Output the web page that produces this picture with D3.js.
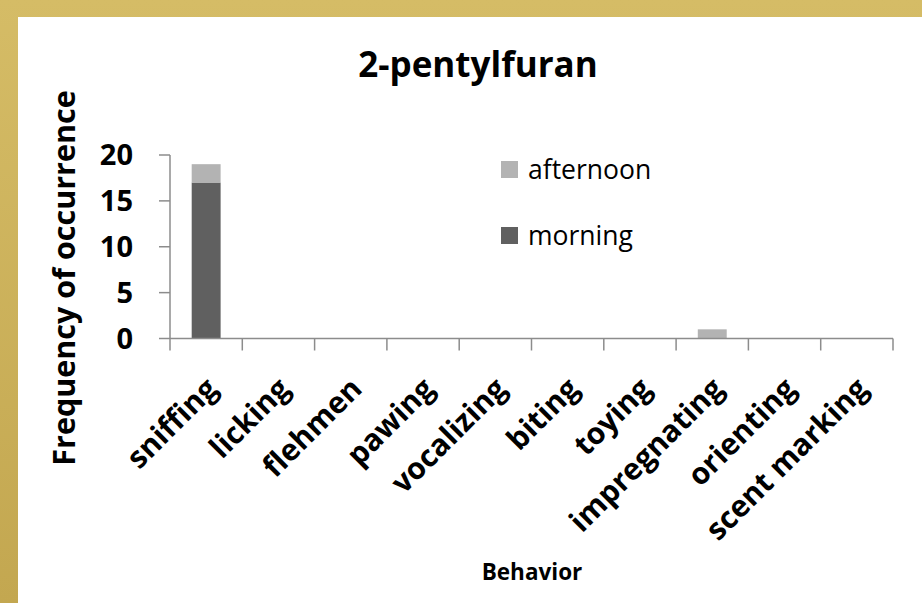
<!DOCTYPE html>
<html><head><meta charset="utf-8">
<script src="https://cdn.jsdelivr.net/npm/d3@7"></script>
<style>html,body{margin:0;padding:0;background:#fff;}svg{display:block;}</style>
</head><body>
<script>
const categories = ["sniffing","licking","flehmen","pawing","vocalizing","biting","toying","impregnating","orienting","scent marking"];
const morning   = [17,0,0,0,0,0,0,0,0,0];
const afternoon = [2,0,0,0,0,0,0,1,0,0];
const seriesNames = ["morning","afternoon"];
const yTicks = [0,5,10,15,20];
const title = "2-pentylfuran";
const yTitle = "Frequency of occurrence";
const xTitle = "Behavior";

const W = 922, H = 603;
const FONT = "'Open Sans', 'Noto Sans', sans-serif";
const colors = {morning:"#606060", afternoon:"#b3b3b3"};

const svg = d3.select("body").append("svg").attr("width",W).attr("height",H);
const defs = svg.append("defs");
const lg = defs.append("linearGradient").attr("id","gold").attr("x1",0).attr("y1",0).attr("x2",0).attr("y2",1);
lg.append("stop").attr("offset","0%").attr("stop-color","#d5bc66");
lg.append("stop").attr("offset","100%").attr("stop-color","#c3a750");
svg.append("rect").attr("width",W).attr("height",H).attr("fill","url(#gold)");
svg.append("rect").attr("x",18).attr("y",17).attr("width",W-18).attr("height",H-17).attr("fill","#fff");

const x0 = 170, x1 = 893, yTop = 155, yBot = 338.5;
const x = d3.scaleBand().domain(categories).range([x0,x1]).paddingInner(0.6).paddingOuter(0.3);
const xb = d3.scaleBand().domain(categories).range([x0,x1]);
const y = d3.scaleLinear().domain([0,20]).range([yBot,yTop]);

const data = categories.map((c,i)=>({cat:c, morning:morning[i], afternoon:afternoon[i]}));
const stack = d3.stack().keys(seriesNames)(data);

svg.append("g").selectAll("g").data(stack).join("g")
  .attr("fill", d=>colors[d.key])
  .selectAll("rect").data(d=>d).join("rect")
  .attr("x", d=>x(d.data.cat))
  .attr("width", x.bandwidth())
  .attr("y", d=>y(d[1]))
  .attr("height", d=>y(d[0])-y(d[1]));

// axes
const axisColor = "#8c8c8c";
const gy = svg.append("g");
gy.append("line").attr("x1",x0).attr("x2",x0).attr("y1",yTop).attr("y2",yBot).attr("stroke",axisColor).attr("stroke-width",1.5);
gy.selectAll("line.t").data(yTicks).join("line").attr("class","t")
  .attr("x1",x0-11).attr("x2",x0).attr("y1",d=>y(d)).attr("y2",d=>y(d)).attr("stroke",axisColor).attr("stroke-width",1.5);
gy.selectAll("text").data(yTicks).join("text")
  .attr("x",133).attr("y",d=>y(d)).attr("dy","0.36em")
  .attr("text-anchor","end").attr("font-family",FONT).attr("font-weight","bold").attr("font-size",29)
  .attr("fill","#000").text(d=>d);

const gx = svg.append("g");
gx.append("line").attr("x1",x0).attr("x2",x1).attr("y1",yBot).attr("y2",yBot).attr("stroke",axisColor).attr("stroke-width",1.5);
const tickPos = categories.map(c=>xb(c)).concat([x1]);
gx.selectAll("line.t").data(tickPos).join("line").attr("class","t")
  .attr("x1",d=>d).attr("x2",d=>d).attr("y1",yBot).attr("y2",yBot+12).attr("stroke",axisColor).attr("stroke-width",1.5);
gx.selectAll("text").data(categories).join("text")
  .attr("transform", d=>`translate(${xb(d)+xb.bandwidth()/2+13},${yBot+52}) rotate(-45)`)
  .attr("text-anchor","end").attr("font-family",FONT).attr("font-weight","bold").attr("font-size",30)
  .attr("fill","#000").text(d=>d);

// titles
svg.append("text").attr("x",478).attr("y",77).attr("text-anchor","middle")
  .attr("font-family",FONT).attr("font-weight","bold").attr("font-size",35).text(title);
svg.append("text").attr("transform","translate(75,278) rotate(-90)").attr("text-anchor","middle")
  .attr("font-family",FONT).attr("font-weight","bold").attr("font-size",30.5).text(yTitle);
svg.append("text").attr("x",532).attr("y",580).attr("text-anchor","middle")
  .attr("font-family",FONT).attr("font-weight","bold").attr("font-size",22.5).text(xTitle);

// legend
const legendItems = ["afternoon","morning"];
const lgG = svg.append("g");
legendItems.forEach((k,i)=>{
  const ly = 161 + i*66;
  lgG.append("rect").attr("x",501).attr("y",ly).attr("width",17).attr("height",17).attr("fill",colors[k]);
  lgG.append("text").attr("x",528).attr("y",ly+18).attr("font-family",FONT).attr("font-size",26.5).attr("fill","#000").text(k);
});
</script>
</body></html>
